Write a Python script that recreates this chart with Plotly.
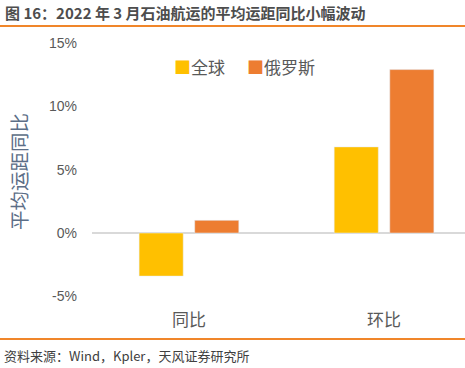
import plotly.graph_objects as go

categories = ["同比", "环比"]
global_vals = [-3.4, 6.8]
russia_vals = [1.0, 12.9]
tick_vals = [-5, 0, 5, 10, 15]
tick_text = ["-5%", "0%", "5%", "10%", "15%"]
series_names = ["全球", "俄罗斯"]
series_colors = ["#FFC000", "#ED7D31"]

W, H = 465, 368
CJK = "Noto Sans CJK SC, Liberation Sans, Arial, sans-serif"
RULE_Y = [26, 339]  # pixel rows of the orange header/footer rules

fig = go.Figure()
fig.add_trace(go.Bar(name=series_names[0], x=categories, y=global_vals, marker_color=series_colors[0]))
fig.add_trace(go.Bar(name=series_names[1], x=categories, y=russia_vals, marker_color=series_colors[1]))

def px(x):
    return x / W

def py(y):
    return 1 - y / H

fig.update_layout(
    width=W, height=H,
    margin=dict(l=0, r=0, t=0, b=0),
    paper_bgcolor="white", plot_bgcolor="white",
    barmode="group", bargap=0.43, bargroupgap=0.207,
    font=dict(family=CJK, color="#595959"),
    xaxis=dict(
        domain=[px(92), 1], range=[-0.497, 1.415],
        showline=False, showgrid=False, zeroline=False,
        tickfont=dict(size=17, color="#595959", family=CJK),
        ticks="", ticklabelstandoff=3,
    ),
    yaxis=dict(
        domain=[py(305), py(35)], range=[-5.68, 15.63],
        tickvals=tick_vals, ticktext=tick_text,
        showgrid=False, showline=False,
        zeroline=True, zerolinecolor="#D9D9D9", zerolinewidth=2,
        tickfont=dict(size=14, color="#595959", family="Liberation Sans, Arial, sans-serif"),
        ticks="", ticklabelstandoff=14,
    ),
    showlegend=False,
)

# orange header/footer rules
for yy in RULE_Y:
    fig.add_shape(type="rect", xref="paper", yref="paper",
                  x0=0, x1=1, y0=py(yy + 1), y1=py(yy - 1),
                  line=dict(width=0), fillcolor="#F0862A", layer="above")

# manual legend (symbol + name)
legend_x = [172, 245]
for name, color, lx in zip(series_names, series_colors, legend_x):
    fig.add_annotation(
        text=f"<span style='color:{color}'>■</span>{name}",
        xref="paper", yref="paper", x=px(lx), y=py(67), xanchor="left", yanchor="middle",
        showarrow=False, font=dict(size=17, color="#595959", family=CJK),
    )

# title
fig.add_annotation(
    text="<b>图 16：2022 年 3 月石油航运的平均运距同比小幅波动</b>",
    xref="paper", yref="paper", x=px(3), y=py(12), xanchor="left", yanchor="middle",
    showarrow=False, font=dict(size=15, color="#4D4D4D", family=CJK),
)
# y axis title
fig.add_annotation(
    text="平均运距同比", textangle=-90,
    xref="paper", yref="paper", x=px(18), y=py(172), xanchor="center", yanchor="middle",
    showarrow=False, font=dict(size=19.5, color="#5C6E87", family=CJK),
)
# source
fig.add_annotation(
    text="资料来源：Wind，Kpler，天风证券研究所",
    xref="paper", yref="paper", x=px(2), y=py(355), xanchor="left", yanchor="middle",
    showarrow=False, font=dict(size=13, color="#404040", family=CJK),
)

fig.write_html(
    "out.html",
    config={"displayModeBar": False},
    post_script="document.body.style.margin='0';document.body.style.padding='0';",
)
